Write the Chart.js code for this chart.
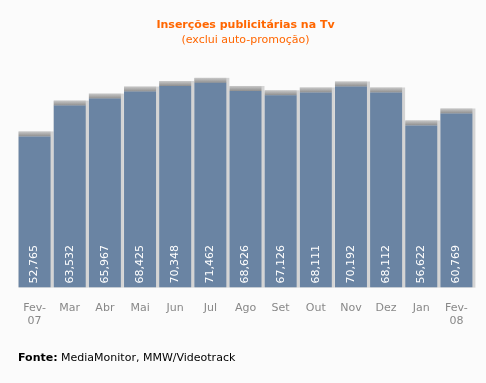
<!DOCTYPE html>
<html><head><meta charset="utf-8">
<script src="https://cdn.jsdelivr.net/npm/chart.js@4/dist/chart.umd.min.js"></script>
<style>
html,body{margin:0;padding:0;background:#fbfbfb;}
#wrap{position:relative;width:486px;height:383px;}
#fonte{position:absolute;left:18px;top:351px;font:11px "DejaVu Sans",Verdana,sans-serif;color:#000;}
</style></head><body>
<div id="wrap"><canvas id="c" width="486" height="383"></canvas>
<div id="fonte"><b>Fonte:</b> MediaMonitor, MMW/Videotrack</div></div>
<script>
const categories = [["Fev-","07"],"Mar","Abr","Mai","Jun","Jul","Ago","Set","Out","Nov","Dez","Jan",["Fev-","08"]];
const values = [52765,63532,65967,68425,70348,71462,68626,67126,68111,70192,68112,56622,60769];
const valueLabels = ["52,765","63,532","65,967","68,425","70,348","71,462","68,626","67,126","68,111","70,192","68,112","56,622","60,769"];

const barDeco = {
  id:'barDeco',
  beforeDatasetsDraw(chart){
    const ctx=chart.ctx, meta=chart.getDatasetMeta(0);
    ctx.save();
    meta.data.forEach(b=>{
      const w=b.width, x0=b.x-w/2;
      ctx.fillStyle='#d4d4d4';
      ctx.fillRect(x0, b.y-5, w+3, b.base-b.y+5);
      const g=ctx.createLinearGradient(0,b.y-5,0,b.y);
      g.addColorStop(0,'#c8c8c8'); g.addColorStop(1,'#8e8e8e');
      ctx.fillStyle=g;
      ctx.fillRect(x0, b.y-5, w, 5);
    });
    ctx.restore();
  },
  afterDatasetsDraw(chart){
    const ctx=chart.ctx, meta=chart.getDatasetMeta(0);
    ctx.save();
    ctx.fillStyle='#ffffff';
    ctx.font='11px "DejaVu Sans", Verdana, sans-serif';
    ctx.textAlign='left'; ctx.textBaseline='middle';
    meta.data.forEach((b,i)=>{
      ctx.save();
      ctx.translate(b.x, b.base-4);
      ctx.rotate(-Math.PI/2);
      ctx.fillText(valueLabels[i],0,0);
      ctx.restore();
    });
    ctx.restore();
  }
};

new Chart(document.getElementById('c'),{
  type:'bar',
  data:{labels:categories,datasets:[{data:values,backgroundColor:'#6a84a3',barPercentage:0.91,categoryPercentage:1}]},
  options:{
    responsive:false,animation:false,
    layout:{padding:{left:17,right:12,top:19,bottom:49}},
    plugins:{
      legend:{display:false},tooltip:{enabled:false},
      title:{display:true,text:'Inserções publicitárias na Tv',color:'#ff6600',font:{family:'"DejaVu Sans", Verdana, sans-serif',size:11,weight:'bold'},padding:{top:0,bottom:0}},
      subtitle:{display:true,text:'(exclui auto-promoção)',color:'#ff6600',font:{family:'"DejaVu Sans", Verdana, sans-serif',size:11},padding:{top:1,bottom:12}}
    },
    scales:{
      x:{grid:{display:false},border:{display:false},ticks:{color:'#888888',padding:6,maxRotation:0,autoSkip:false,font:{family:'"DejaVu Sans", Verdana, sans-serif',size:11}}},
      y:{display:false,min:0,max:80000}
    }
  },
  plugins:[barDeco]
});
</script></body></html>
